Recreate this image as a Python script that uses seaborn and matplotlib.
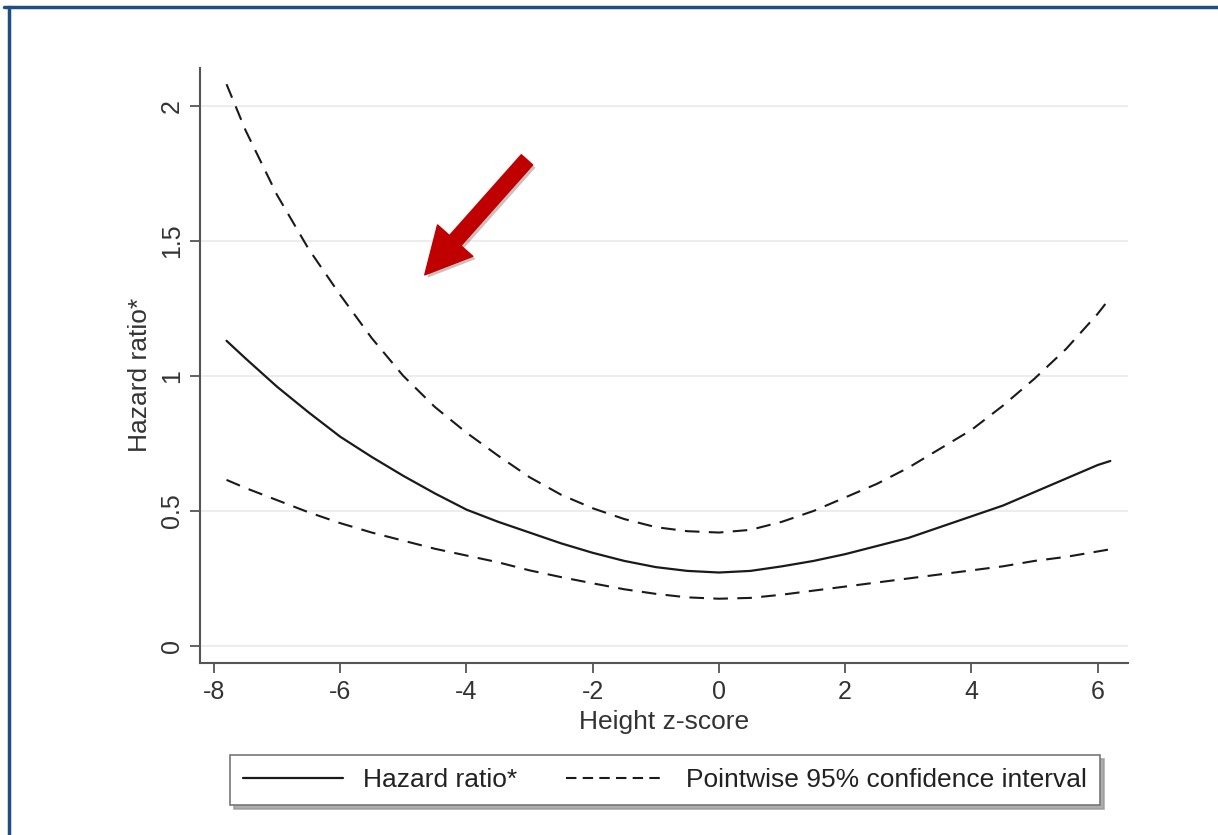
import matplotlib
matplotlib.use("Agg")
import matplotlib.pyplot as plt
import matplotlib.patheffects as pe
from matplotlib.lines import Line2D
import numpy as np
import pandas as pd
import seaborn as sns

# ---- data ----
z_score = [-7.8, -7.5, -7.0, -6.5, -6.0, -5.5, -5.0, -4.5, -4.0, -3.5, -3.0, -2.5, -2.0,
           -1.5, -1.0, -0.5, 0.0, 0.5, 1.0, 1.5, 2.0, 2.5, 3.0, 3.5, 4.0, 4.5, 5.0, 5.5,
           6.0, 6.2]
hazard_ratio = [1.13, 1.065, 0.96, 0.865, 0.775, 0.70, 0.63, 0.565, 0.505, 0.46, 0.42, 0.38,
                0.345, 0.315, 0.292, 0.278, 0.272, 0.278, 0.295, 0.315, 0.34, 0.37, 0.40,
                0.44, 0.48, 0.52, 0.57, 0.62, 0.67, 0.685]
ci_upper = [2.08, 1.91, 1.67, 1.47, 1.30, 1.14, 1.00, 0.885, 0.79, 0.705, 0.625, 0.56, 0.51,
            0.47, 0.44, 0.425, 0.42, 0.43, 0.46, 0.50, 0.55, 0.60, 0.66, 0.73, 0.80, 0.89,
            0.99, 1.10, 1.23, 1.29]
ci_lower = [0.615, 0.585, 0.54, 0.495, 0.455, 0.42, 0.39, 0.36, 0.335, 0.31, 0.28, 0.255,
            0.232, 0.21, 0.193, 0.18, 0.175, 0.178, 0.19, 0.205, 0.22, 0.235, 0.25, 0.265,
            0.28, 0.295, 0.315, 0.33, 0.35, 0.358]
x_ticks = [-8, -6, -4, -2, 0, 2, 4, 6]
y_ticks = [0, 0.5, 1, 1.5, 2]
y_tick_labels = ["0", "0.5", "1", "1.5", "2"]
legend_labels = ["Hazard ratio*", "Pointwise 95% confidence interval"]
x_label = "Height z-score"
y_label = "Hazard ratio*"

df = pd.DataFrame({"z": z_score, "hr": hazard_ratio, "lo": ci_lower, "hi": ci_upper})

sns.set_theme(style="white")
plt.rcParams["font.family"] = ["Liberation Sans", "DejaVu Sans"]

W, H = 1218, 835
fig = plt.figure(figsize=(W / 100, H / 100), dpi=100)
fig.patch.set_facecolor("white")
ax = fig.add_axes([200 / W, 1 - 663 / H, (1128 - 200) / W, (663 - 68) / H])

line_col = "#1a1a1a"
dash = (7, 4.5)
sns.lineplot(data=df, x="z", y="hi", ax=ax, color=line_col, lw=1.5, sort=True)
sns.lineplot(data=df, x="z", y="lo", ax=ax, color=line_col, lw=1.5, sort=True)
sns.lineplot(data=df, x="z", y="hr", ax=ax, color=line_col, lw=1.6, sort=True)
ax.lines[0].set_dashes(dash)
ax.lines[1].set_dashes(dash)

ax.set_xlim(-8.22, 6.48)
ax.set_ylim(-0.063, 2.14)
ax.set_xticks(x_ticks)
ax.set_xticklabels([str(t) for t in x_ticks])
ax.set_yticks(y_ticks)
ax.set_yticklabels(y_tick_labels)

for y in y_ticks:
    ax.axhline(y, color="#ececec", lw=1.3, zorder=0)

for s in ["top", "right"]:
    ax.spines[s].set_visible(False)
for s in ["left", "bottom"]:
    ax.spines[s].set_color("#555555")
    ax.spines[s].set_linewidth(1.5)

ax.tick_params(axis="both", which="major", direction="out", length=7.5, width=1.3,
               color="#555555", labelcolor="#333333", labelsize=18, pad=5,
               left=True, bottom=True)
ax.tick_params(axis="y", labelrotation=90, pad=4)
for lab in ax.get_yticklabels():
    lab.set_va("center")

ax.set_xlabel(x_label, fontsize=19, color="#333333", labelpad=4)
ax.set_ylabel(y_label, fontsize=19, color="#333333")
ax.yaxis.set_label_coords(-0.052, 0.484)

# red arrow annotation
ax.annotate("", xy=(-4.66, 1.374), xytext=(-3.04, 1.80),
            arrowprops=dict(arrowstyle="simple,head_width=3.4,head_length=3.3,tail_width=1.1",
                            mutation_scale=10, color="#c00000", shrinkA=0, shrinkB=0,
                            path_effects=[pe.SimplePatchShadow(offset=(2, -2), alpha=0.25),
                                          pe.Normal()]))

# legend
handles = [Line2D([], [], color=line_col, lw=1.6),
           Line2D([], [], color=line_col, lw=1.5, dashes=(5, 3))]
leg = fig.legend(handles, legend_labels, ncol=2,
                 bbox_to_anchor=(665 / W, 1 - 780 / H),
                 loc="center", fontsize=19, frameon=True, fancybox=False,
                 shadow={"ox": 3, "oy": -3, "color": "#999999", "alpha": 0.8},
                 handlelength=3.8, handletextpad=0.75, columnspacing=1.85,
                 borderpad=0.5, borderaxespad=0)
leg.get_frame().set_edgecolor("#777777")
leg.get_frame().set_linewidth(1.2)
for t in leg.get_texts():
    t.set_color("#222222")

# blue page border (top and left visible)
bc = "#1f4e85"
fig.add_artist(Line2D([4 / W, 1.0], [1 - 7 / H, 1 - 7 / H], color=bc, lw=2.5,
                      transform=fig.transFigure))
fig.add_artist(Line2D([9 / W, 9 / W], [0, 1 - 7 / H], color=bc, lw=2.5,
                      transform=fig.transFigure))

fig.savefig("out.png", dpi=100, facecolor="white")
